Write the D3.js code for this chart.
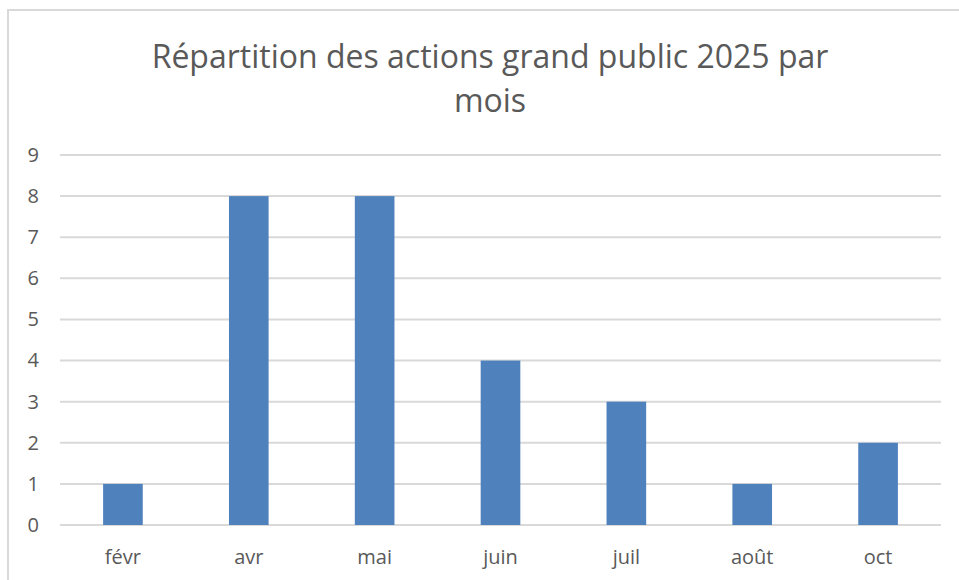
<!DOCTYPE html>
<html>
<head>
<meta charset="utf-8">
<script src="https://cdn.jsdelivr.net/npm/d3@7"></script>
<style>
  body { margin: 0; background: #fff; }
  text { font-family: "Open Sans", "Noto Sans", sans-serif; }
</style>
</head>
<body>
<div id="chart"></div>
<script>
var months = ["févr", "avr", "mai", "juin", "juil", "août", "oct"];
var actions = [1, 8, 8, 4, 3, 1, 2];
var yTicks = [0, 1, 2, 3, 4, 5, 6, 7, 8, 9];
var titleLines = ["Répartition des actions grand public 2025 par", "mois"];

var width = 959, height = 580;
var margin = { top: 155, bottom: 55, left: 60, right: 18 };

var svg = d3.select("#chart").append("svg")
  .attr("width", width)
  .attr("height", height);

// chart frame
svg.append("rect")
  .attr("x", 8).attr("y", 10)
  .attr("width", width + 10).attr("height", height + 10)
  .attr("fill", "#fff")
  .attr("stroke", "#d9d9d9")
  .attr("stroke-width", 2);

var x = d3.scaleBand()
  .domain(months)
  .range([margin.left, width - margin.right])
  .paddingInner(0.685)
  .paddingOuter(0.3425);

var y = d3.scaleLinear()
  .domain([0, 9])
  .range([height - margin.bottom, margin.top]);

// gridlines
svg.append("g")
  .selectAll("line")
  .data(yTicks)
  .enter().append("line")
    .attr("x1", margin.left)
    .attr("x2", width - margin.right)
    .attr("y1", function(d) { return y(d); })
    .attr("y2", function(d) { return y(d); })
    .attr("stroke", "#d9d9d9")
    .attr("stroke-width", 2);

// y axis labels
var yAxis = d3.axisLeft(y).tickValues(yTicks).tickSize(0).tickPadding(0);
var gy = svg.append("g")
  .attr("transform", "translate(39,0)")
  .call(yAxis);
gy.select(".domain").remove();
gy.selectAll("text")
  .attr("fill", "#595959")
  .style("font-size", "20px");

// bars
svg.append("g")
  .selectAll("rect")
  .data(actions)
  .enter().append("rect")
    .attr("x", function(d, i) { return x(months[i]); })
    .attr("y", function(d) { return y(d); })
    .attr("width", x.bandwidth())
    .attr("height", function(d) { return y(0) - y(d); })
    .attr("fill", "#4f81bd");

// x axis labels
var xAxis = d3.axisBottom(x).tickSize(0).tickPadding(0);
var gx = svg.append("g")
  .attr("transform", "translate(0," + (y(0) + 25) + ")")
  .call(xAxis);
gx.select(".domain").remove();
gx.selectAll("text")
  .attr("fill", "#595959")
  .style("font-size", "20px");

// title
svg.append("g")
  .selectAll("text")
  .data(titleLines)
  .enter().append("text")
    .attr("x", 490)
    .attr("y", function(d, i) { return 68 + i * 44; })
    .attr("text-anchor", "middle")
    .attr("fill", "#595959")
    .style("font-size", "32px")
    .text(function(d) { return d; });
</script>
</body>
</html>
